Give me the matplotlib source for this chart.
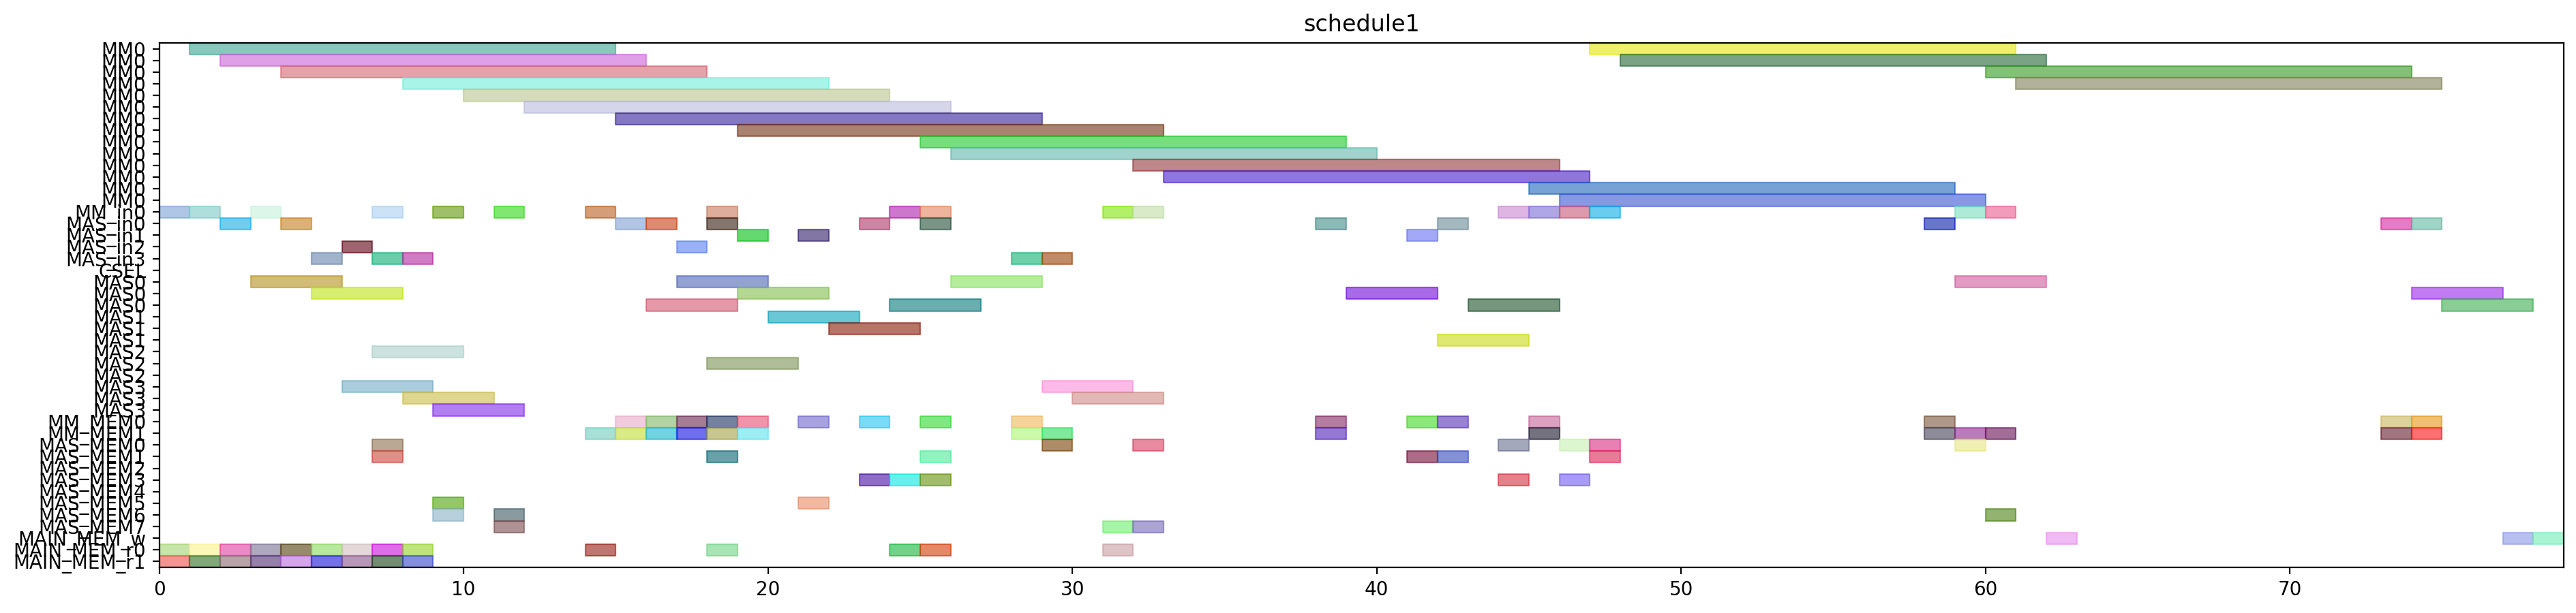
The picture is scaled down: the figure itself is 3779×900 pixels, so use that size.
import numpy as np
import matplotlib
matplotlib.use("Agg")
import matplotlib.pyplot as plt
from matplotlib.colors import to_rgb

# row names, top to bottom
labels = (["MM0"] * 14
          + ["MM_in0", "MAS_in0", "MAS_in1", "MAS_in2", "MAS_in3", "CSEL"]
          + ["MAS0"] * 3 + ["MAS1"] * 3 + ["MAS2"] * 3 + ["MAS3"] * 3
          + ["MM_MEM0", "MM_MEM1"]
          + ["MAS_MEM%d" % i for i in range(8)]
          + ["MAIN_MEM_w", "MAIN_MEM_r0", "MAIN_MEM_r1"])

# (start, end) of each task, one list per row
spans = [
    [(1, 15), (47, 61)],
    [(2, 16), (48, 62)],
    [(4, 18), (60, 74)],
    [(8, 22), (61, 75)],
    [(10, 24)],
    [(12, 26)],
    [(15, 29)],
    [(19, 33)],
    [(25, 39)],
    [(26, 40)],
    [(32, 46)],
    [(33, 47)],
    [(45, 59)],
    [(46, 60)],
    # MM_in0
    [(0, 1), (1, 2), (3, 4), (7, 8), (9, 10), (11, 12), (14, 15), (18, 19),
     (24, 25), (25, 26), (31, 32), (32, 33), (44, 45), (45, 46), (46, 47),
     (47, 48), (59, 60), (60, 61)],
    # MAS_in0
    [(2, 3), (4, 5), (15, 16), (16, 17), (18, 19), (23, 24), (25, 26),
     (38, 39), (42, 43), (58, 59), (73, 74), (74, 75)],
    [(19, 20), (21, 22), (41, 42)],
    [(6, 7), (17, 18)],
    [(5, 6), (7, 8), (8, 9), (28, 29), (29, 30)],
    [],
    # MAS0
    [(3, 6), (17, 20), (26, 29), (59, 62)],
    [(5, 8), (19, 22), (39, 42), (74, 77)],
    [(16, 19), (24, 27), (43, 46), (75, 78)],
    # MAS1
    [(20, 23)],
    [(22, 25)],
    [(42, 45)],
    # MAS2
    [(7, 10)],
    [(18, 21)],
    [],
    # MAS3
    [(6, 9), (29, 32)],
    [(8, 11), (30, 33)],
    [(9, 12)],
    # MM_MEM0
    [(15, 16), (16, 17), (17, 18), (18, 19), (19, 20), (21, 22), (23, 24),
     (25, 26), (28, 29), (38, 39), (41, 42), (42, 43), (45, 46), (58, 59),
     (73, 74), (74, 75)],
    # MM_MEM1
    [(14, 15), (15, 16), (16, 17), (17, 18), (18, 19), (19, 20), (28, 29),
     (29, 30), (38, 39), (45, 46), (58, 59), (59, 60), (60, 61), (73, 74),
     (74, 75)],
    # MAS_MEM0..7
    [(7, 8), (29, 30), (32, 33), (44, 45), (46, 47), (47, 48), (59, 60)],
    [(7, 8), (18, 19), (25, 26), (41, 42), (42, 43), (47, 48)],
    [],
    [(23, 24), (24, 25), (25, 26), (44, 45), (46, 47)],
    [],
    [(9, 10), (21, 22)],
    [(9, 10), (11, 12), (60, 61)],
    [(11, 12), (31, 32), (32, 33)],
    # MAIN_MEM_w
    [(62, 63), (77, 78), (78, 79)],
    # MAIN_MEM_r0
    [(0, 1), (1, 2), (2, 3), (3, 4), (4, 5), (5, 6), (6, 7), (7, 8), (8, 9),
     (14, 15), (18, 19), (24, 25), (25, 26), (31, 32)],
    # MAIN_MEM_r1
    [(0, 1), (1, 2), (2, 3), (3, 4), (4, 5), (5, 6), (6, 7), (7, 8), (8, 9)],
]

# colour of each task as it looks on the white background
shades = [
    ["#86cbbd", "#eef06c"],
    ["#dfa0e8", "#7aa386"],
    ["#e5a2aa", "#85c078"],
    ["#a8f5e8", "#b3b39a"],
    ["#d5dcbc"],
    ["#d5d6ea"],
    ["#8479bf"],
    ["#a98370"],
    ["#75e07e"],
    ["#9fd3ce"],
    ["#bf888a"],
    ["#8f75de"],
    ["#77a2d5"],
    ["#8899e4"],
    ["#b0c8e6", "#b0e0dc", "#ddf7ea", "#cce2f6", "#9fc068", "#80e870",
     "#d49e78", "#deae9c", "#cc77cc", "#eeb49e", "#b2f06a", "#d8eac8",
     "#e0b6e4", "#b0a6e6", "#dc9aac", "#6accee", "#aeecd6", "#f29cbc"],
    ["#70ccf2", "#dcb274", "#b2c6e4", "#e08a70", "#84766e", "#d084a4",
     "#7a9488", "#8cb8b6", "#a4b8c0", "#6a76cc", "#e87cc4", "#a2d4c8"],
    ["#64d870", "#8276a4", "#a4aaf8"],
    ["#9c6470", "#9ab2f4"],
    ["#a2b4cc", "#6ccdab", "#d07cc4", "#6ed0aa", "#c08c68"],
    [],
    ["#d4bc78", "#94a2d4", "#b4ee9c", "#e29cc4"],
    ["#d8ee70", "#b4d894", "#a86ae8", "#c27cf4"],
    ["#e498a8", "#6aaeb0", "#76967e", "#8ace96"],
    ["#6ac8d6"],
    ["#b87468"],
    ["#e0e870"],
    ["#cce2de"],
    ["#b0be98"],
    [],
    ["#aacedc", "#fcbae8"],
    ["#e0d690", "#e2b8b6"],
    ["#b27ef0"],
    ["#f2cce0", "#b2d4a2", "#a47c96", "#74829e", "#f094aa", "#a8a2e0",
     "#78dcf8", "#80e880", "#f8d49c", "#b47ca0", "#8ce878", "#9a82d4",
     "#dca0c0", "#b09888", "#e0d49c", "#f0c070"],
    ["#a8e0d6", "#d8ec84", "#70d4e0", "#6e6eee", "#c6c68e", "#9ceef4",
     "#ccfaaa", "#7cec9c", "#9478d4", "#74727e", "#8e8c98", "#b87cbc",
     "#a26e98", "#a27680", "#ff7070"],
    ["#baa894", "#b08c68", "#e88aa0", "#a4a8bc", "#dcf6d0", "#e880b4",
     "#f0f0b4"],
    ["#e09088", "#68a2a8", "#90f4c0", "#ac6c88", "#8490d8", "#e87c98"],
    [],
    ["#8f6cc8", "#6af0ea", "#a2bd6a", "#e2828a", "#a89cf8"],
    [],
    ["#94c86a", "#f0baa2"],
    ["#b8d0dc", "#8a9ba0", "#92b470"],
    ["#b09294", "#a8f4a8", "#aca4d4"],
    ["#f0bcf4", "#b8c0f0", "#a8f4d4"],
    ["#c8e6a8", "#fdf8b8", "#ec8ac6", "#b0aabe", "#968c6c", "#b8e89c",
     "#e4d8d8", "#e06ce8", "#c0e47c", "#c07670", "#a8e4b4", "#70d48a",
     "#e48862", "#e0c4c8"],
    ["#f49490", "#80a878", "#b8a4a8", "#9480a8", "#d6a4ec", "#7470e8",
     "#b898b8", "#748c72", "#8490e0"],
]

ALPHA = 0.6


def unblend(c):
    # base colour that gives the seen shade when drawn with ALPHA on white
    rgb = np.array(to_rgb(c))
    return tuple(np.clip((rgb - (1 - ALPHA)) / ALPHA, 0, 1))


fig, ax = plt.subplots(figsize=(18.9, 4.5), dpi=200)
fig.subplots_adjust(left=0.0618, right=0.995, top=0.93, bottom=0.0744)

for i, (row, cols) in enumerate(zip(spans, shades)):
    for (s, e), c in zip(row, cols):
        base = unblend(c)
        ax.broken_barh([(s, e - s)], (i - 0.5, 1), facecolors=base,
                       edgecolor=base, alpha=ALPHA, linewidth=0.8)

ax.set_yticks(range(len(labels)))
ax.set_yticklabels(labels)
ax.set_ylim(len(labels) - 0.5, -0.5)
ax.set_xlim(0, 79)
ax.set_title("schedule1")

fig.savefig("out.png", dpi=200)
